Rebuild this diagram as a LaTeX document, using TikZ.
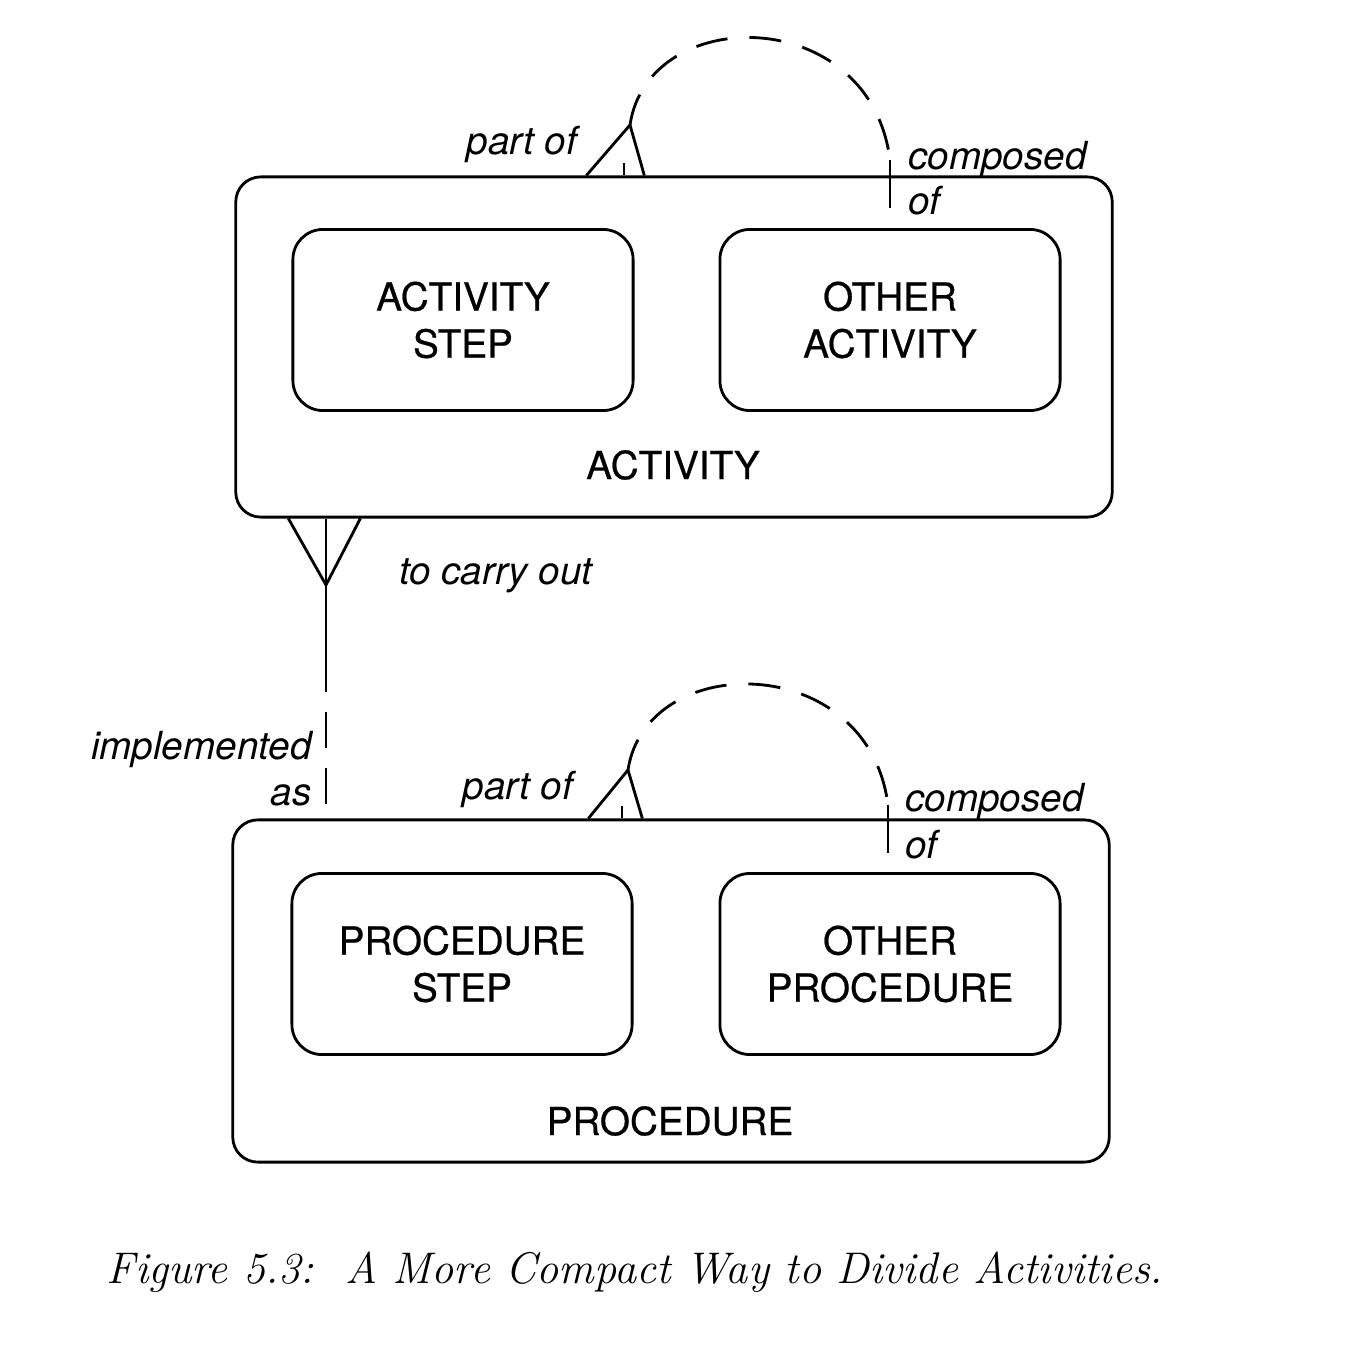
\documentclass[tikz,border=0pt]{standalone}
\usepackage{fontspec}
\setsansfont{TeX Gyre Heros}
\usetikzlibrary{calc}

\begin{document}
\begin{tikzpicture}[x=0.01cm, y=-0.01cm, line width=0.8pt,
  entity/.style={draw, rounded corners=0.25cm, minimum width=8.76cm, minimum height=3.4cm},
  subentity/.style={draw, rounded corners=0.3cm, minimum width=3.4cm, minimum height=1.81cm,
    align=center, font=\fontsize{11}{13.4}\selectfont\sffamily\addfontfeature{FakeBold=0.6}},
  ename/.style={font=\fontsize{11}{13}\selectfont\sffamily\addfontfeature{FakeBold=0.6}},
  rolelbl/.style={inner sep=0pt, font=\fontsize{11}{13}\selectfont\sffamily\itshape},
  loopline/.style={dash pattern=on 0.32cm off 0.22cm}]

\useasboundingbox (0,0) rectangle (1372,1346);

% Activity
\node[entity] (act) at (674,347) {};
\node[ename] (actname) at (673,465) {ACTIVITY};
\node[subentity] (actstep) at (463,320) {ACTIVITY\\STEP};
\node[subentity] (othact) at (890,320) {OTHER\\ACTIVITY};

% Procedure
\node[entity, minimum height=3.42cm] (proc) at (671,991) {};
\node[ename] (procname) at (670,1121) {PROCEDURE};
\node[subentity] (procstep) at (462,964) {PROCEDURE\\STEP};
\node[subentity] (othproc) at (890,964) {OTHER\\PROCEDURE};

% recursive link on activity
\coordinate (apexA) at (630,125);
\coordinate (tickA) at (890,160);
\draw ($(act.north west)+(352,0)$) -- (apexA) -- ($(act.north west)+(410,0)$);
\draw ($(apexA |- act.north)+(-6,0)$) -- ++(0,-12);
\draw[loopline] (apexA) .. controls (648,3) and (870,3) .. (tickA);
\draw (tickA) -- ($(tickA |- act.north)+(0,33)$);
\node[rolelbl, anchor=base] (partA) at (522,155) {part of};
\node[rolelbl, anchor=base west] (compA) at (907,170) {composed};
\node[rolelbl, anchor=base west] (ofA) at (907,215) {of};

% recursive link on procedure
\coordinate (apexP) at (628,770);
\coordinate (tickP) at (888,805);
\draw ($(proc.north west)+(357,0)$) -- (apexP) -- ($(proc.north west)+(411,0)$);
\draw ($(apexP |- proc.north)+(-6,0)$) -- ++(0,-12);
\draw[loopline] (apexP) .. controls (646,650) and (868,650) .. (tickP);
\draw (tickP) -- ($(tickP |- proc.north)+(0,35)$);
\node[rolelbl, anchor=base] (partP) at (518,800) {part of};
\node[rolelbl, anchor=base west] (compP) at (904,812) {composed};
\node[rolelbl, anchor=base west] (ofP) at (904,858) {of};

% activity -- procedure
\coordinate (fork) at (326,585);
\coordinate (half) at (326,692);
\draw ($(act.south west)+(54,0)$) -- (fork) -- ($(act.south west)+(126,0)$);
\draw (fork |- act.south) -- (half);
\draw[dash pattern=on 0.36cm off 0.2cm, dash phase=0.36cm] (half) -- (half |- proc.north);
\node[rolelbl, anchor=base west] (carry) at (398,585) {to carry out};
\node[rolelbl, anchor=base east] (impl) at (313,760) {implemented};
\node[rolelbl, anchor=base east] (as) at (313,806) {as};

\node[font=\fontsize{12.6}{15}\selectfont\itshape, anchor=base] (caption) at (635,1283)
  {Figure 5.3:\ \ A More Compact Way to Divide Activities.};

\end{tikzpicture}
\end{document}
